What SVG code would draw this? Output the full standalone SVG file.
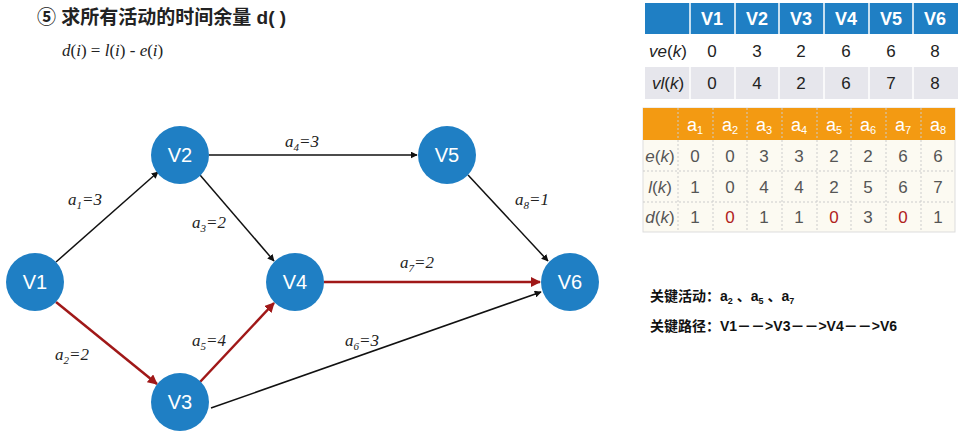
<svg xmlns="http://www.w3.org/2000/svg" width="963" height="439" viewBox="0 0 963 439">
<style>
.n{fill:#1f7fc4}
.nt{font-family:"Liberation Sans",Arial,sans-serif;font-size:20px;fill:#fff;text-anchor:middle;dominant-baseline:central}
.e{stroke:#111;stroke-width:1.5;fill:none}
.c{stroke:#a01818;stroke-width:2.5;fill:none}
.el{font-family:"Liberation Serif",serif;font-style:italic;font-size:17px;fill:#222}
.tx{font-family:"Liberation Sans",Arial,sans-serif;font-size:17px;fill:#222;text-anchor:middle;dominant-baseline:central}
.th{font-family:"Liberation Sans",Arial,sans-serif;font-size:18px;font-weight:bold;fill:#fff;text-anchor:middle;dominant-baseline:central}
.g{stroke:#ccc;stroke-width:1;stroke-dasharray:2 2}
</style>
<defs>
<marker id="ab" viewBox="0 0 10 10" refX="9" refY="5" markerWidth="7" markerHeight="7" orient="auto" markerUnits="userSpaceOnUse"><path d="M0,0L10,5L0,10z" fill="#111"/></marker>
<marker id="ar" viewBox="0 0 10 10" refX="9" refY="5" markerWidth="10" markerHeight="10" orient="auto" markerUnits="userSpaceOnUse"><path d="M0,0L10,5L0,10z" fill="#a01818"/></marker>
</defs>
<rect width="963" height="439" fill="#fff"/>
<text x="37" y="24" font-family="'Liberation Sans','Noto Sans CJK SC',sans-serif" font-size="19" font-weight="bold" fill="#222">⑤ 求所有活动的时间余量 d( )</text>
<text x="62" y="56" font-family="'Liberation Serif',serif" font-size="17" fill="#222"><tspan font-style="italic">d</tspan>(<tspan font-style="italic">i</tspan>) = <tspan font-style="italic">l</tspan>(<tspan font-style="italic">i</tspan>) - <tspan font-style="italic">e</tspan>(<tspan font-style="italic">i</tspan>)</text>
<g id="connectors">
<line class="e" x1="56" y1="262" x2="158" y2="172" marker-end="url(#ab)"/>
<line class="c" x1="56" y1="302" x2="157" y2="384" marker-end="url(#ar)"/>
<line class="e" x1="200" y1="175" x2="274" y2="261" marker-end="url(#ab)"/>
<line class="e" x1="209" y1="155" x2="417" y2="155" marker-end="url(#ab)"/>
<line class="c" x1="200" y1="382" x2="274" y2="303" marker-end="url(#ar)"/>
<line class="e" x1="211" y1="408" x2="541" y2="292" marker-end="url(#ab)"/>
<line class="c" x1="324" y1="282" x2="540" y2="282" marker-end="url(#ar)"/>
<line class="e" x1="468" y1="175" x2="548" y2="261" marker-end="url(#ab)"/>
<text class="el" x="68" y="205">a<tspan font-size="11" dy="4">1</tspan><tspan dy="-4">=3</tspan></text>
<text class="el" x="55" y="360">a<tspan font-size="11" dy="4">2</tspan><tspan dy="-4">=2</tspan></text>
<text class="el" x="192" y="228">a<tspan font-size="11" dy="4">3</tspan><tspan dy="-4">=2</tspan></text>
<text class="el" x="285" y="147">a<tspan font-size="11" dy="4">4</tspan><tspan dy="-4">=3</tspan></text>
<text class="el" x="192" y="346">a<tspan font-size="11" dy="4">5</tspan><tspan dy="-4">=4</tspan></text>
<text class="el" x="345" y="346">a<tspan font-size="11" dy="4">6</tspan><tspan dy="-4">=3</tspan></text>
<text class="el" x="400" y="268">a<tspan font-size="11" dy="4">7</tspan><tspan dy="-4">=2</tspan></text>
<text class="el" x="515" y="205">a<tspan font-size="11" dy="4">8</tspan><tspan dy="-4">=1</tspan></text>
</g>
<g id="V1"><circle class="n" cx="35" cy="282" r="29"/><text class="nt" x="35" y="282">V1</text></g>
<g id="V2"><circle class="n" cx="180" cy="155" r="29"/><text class="nt" x="180" y="155">V2</text></g>
<g id="V3"><circle class="n" cx="180" cy="402" r="29"/><text class="nt" x="180" y="402">V3</text></g>
<g id="V4"><circle class="n" cx="295" cy="282" r="29"/><text class="nt" x="295" y="282">V4</text></g>
<g id="V5"><circle class="n" cx="447" cy="155" r="29"/><text class="nt" x="447" y="155">V5</text></g>
<g id="V6"><circle class="n" cx="570" cy="282" r="29"/><text class="nt" x="570" y="282">V6</text></g>
<g id="table1">
<rect x="645" y="3" width="313" height="31" fill="#1f7fc4"/>
<rect x="645" y="34" width="313" height="33" fill="#fff"/>
<rect x="645" y="67" width="313" height="32" fill="#e6e6ec"/>
<g stroke="#fff" stroke-width="1.5"><line x1="690" y1="3" x2="690" y2="99"/><line x1="735" y1="3" x2="735" y2="99"/><line x1="779" y1="3" x2="779" y2="99"/><line x1="824" y1="3" x2="824" y2="99"/><line x1="869" y1="3" x2="869" y2="99"/><line x1="913" y1="3" x2="913" y2="99"/></g>
<text class="th" x="712" y="19">V1</text><text class="th" x="757" y="19">V2</text><text class="th" x="801" y="19">V3</text><text class="th" x="846" y="19">V4</text><text class="th" x="891" y="19">V5</text><text class="th" x="935" y="19">V6</text>
<text class="tx" x="668" y="51"><tspan font-style="italic">ve</tspan>(<tspan font-style="italic">k</tspan>)</text>
<text class="tx" x="712" y="51">0</text><text class="tx" x="757" y="51">3</text><text class="tx" x="801" y="51">2</text><text class="tx" x="846" y="51">6</text><text class="tx" x="891" y="51">6</text><text class="tx" x="935" y="51">8</text>
<text class="tx" x="668" y="83"><tspan font-style="italic">vl</tspan>(<tspan font-style="italic">k</tspan>)</text>
<text class="tx" x="712" y="83">0</text><text class="tx" x="757" y="83">4</text><text class="tx" x="801" y="83">2</text><text class="tx" x="846" y="83">6</text><text class="tx" x="891" y="83">7</text><text class="tx" x="935" y="83">8</text>
</g>
<g id="table2">
<rect x="643" y="108" width="312" height="124" fill="#fcfaf2" stroke="#ddd"/>
<rect x="643" y="108" width="312" height="32" fill="#f39a12"/>
<g class="g"><line x1="643" y1="171" x2="955" y2="171"/><line x1="643" y1="202" x2="955" y2="202"/>
<line x1="678" y1="108" x2="678" y2="232"/><line x1="713" y1="108" x2="713" y2="232"/><line x1="747" y1="108" x2="747" y2="232"/><line x1="782" y1="108" x2="782" y2="232"/><line x1="817" y1="108" x2="817" y2="232"/><line x1="851" y1="108" x2="851" y2="232"/><line x1="886" y1="108" x2="886" y2="232"/><line x1="921" y1="108" x2="921" y2="232"/></g>
<g font-family="'Liberation Sans',Arial,sans-serif" font-size="18" fill="#fff" text-anchor="middle">
<text x="695" y="131">a<tspan font-size="11" dy="3">1</tspan></text><text x="730" y="131">a<tspan font-size="11" dy="3">2</tspan></text><text x="764" y="131">a<tspan font-size="11" dy="3">3</tspan></text><text x="799" y="131">a<tspan font-size="11" dy="3">4</tspan></text><text x="834" y="131">a<tspan font-size="11" dy="3">5</tspan></text><text x="868" y="131">a<tspan font-size="11" dy="3">6</tspan></text><text x="903" y="131">a<tspan font-size="11" dy="3">7</tspan></text><text x="938" y="131">a<tspan font-size="11" dy="3">8</tspan></text>
</g>
<g fill="#555">
<text class="tx" x="660" y="156" style="fill:#555"><tspan font-style="italic">e</tspan>(<tspan font-style="italic">k</tspan>)</text>
<text class="tx" x="660" y="187" style="fill:#555"><tspan font-style="italic">l</tspan>(<tspan font-style="italic">k</tspan>)</text>
<text class="tx" x="660" y="217" style="fill:#555"><tspan font-style="italic">d</tspan>(<tspan font-style="italic">k</tspan>)</text>
</g>
<g font-family="'Liberation Sans',Arial,sans-serif" font-size="17" fill="#555" text-anchor="middle">
<text x="695" y="162">0</text><text x="730" y="162">0</text><text x="764" y="162">3</text><text x="799" y="162">3</text><text x="834" y="162">2</text><text x="868" y="162">2</text><text x="903" y="162">6</text><text x="938" y="162">6</text>
<text x="695" y="193">1</text><text x="730" y="193">0</text><text x="764" y="193">4</text><text x="799" y="193">4</text><text x="834" y="193">2</text><text x="868" y="193">5</text><text x="903" y="193">6</text><text x="938" y="193">7</text>
<text x="695" y="223">1</text><text x="730" y="223" fill="#b02020">0</text><text x="764" y="223">1</text><text x="799" y="223">1</text><text x="834" y="223" fill="#b02020">0</text><text x="868" y="223">3</text><text x="903" y="223" fill="#b02020">0</text><text x="938" y="223">1</text>
</g>
</g>
<g font-family="'Liberation Sans','Noto Sans CJK SC',sans-serif" font-size="14" font-weight="bold" fill="#111">
<text x="650" y="301">关键活动：a<tspan font-size="9" dy="3">2</tspan><tspan dy="-3"> 、a</tspan><tspan font-size="9" dy="3">5</tspan><tspan dy="-3"> 、a</tspan><tspan font-size="9" dy="3">7</tspan></text>
<text x="650" y="331">关键路径：V1－－&gt;V3－－&gt;V4－－&gt;V6</text>
</g>
</svg>
